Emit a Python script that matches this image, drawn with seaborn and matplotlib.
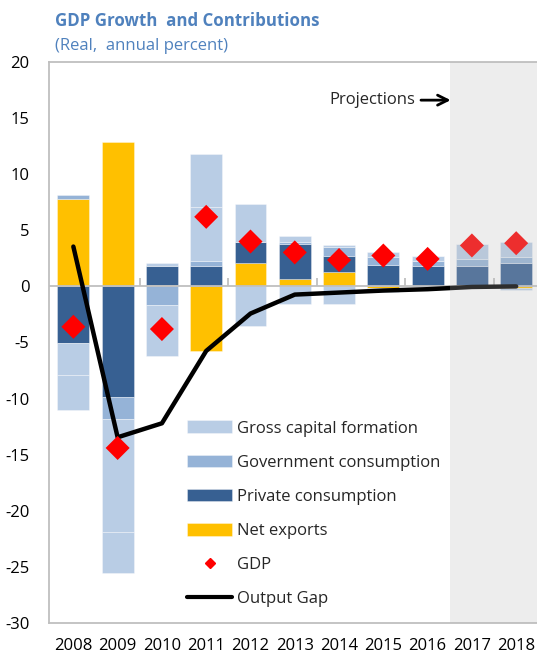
import matplotlib
matplotlib.use("Agg")
import matplotlib.pyplot as plt
import seaborn as sns
import numpy as np
import pandas as pd
from matplotlib.lines import Line2D

# ---- data ----
years = ["2008", "2009", "2010", "2011", "2012", "2013", "2014", "2015", "2016", "2017", "2018"]
net_exports = [7.8, 12.9, 0.15, -5.75, 2.09, 0.66, 1.26, -0.15, 0.0, 0.0, -0.15]
private_consumption = [-5.03, -9.87, 1.70, 1.85, 1.91, 3.09, 1.42, 1.94, 1.85, 1.85, 2.06]
government_consumption = [0.35, -1.98, -1.63, 0.45, 0.0, 0.18, 0.83, 0.65, 0.45, 0.60, 0.53]
gcf_fixed = [-2.90, -10.0, 0.24, 4.77, 3.34, 0.53, 0.18, 0.50, 0.40, 1.35, 1.33]
gcf_inventories = [-3.05, -3.65, -4.57, 4.73, -3.55, -1.53, -1.53, -0.37, 0.0, 0.0, -0.20]
gdp = [-3.6, -14.4, -3.8, 6.2, 4.0, 3.03, 2.35, 2.75, 2.45, 3.65, 3.85]
output_gap = [3.55, -13.45, -12.2, -5.75, -2.42, -0.73, -0.55, -0.37, -0.25, -0.05, 0.0]
yticks = [20, 15, 10, 5, 0, -5, -10, -15, -20, -25, -30]

sns.set_theme(style="white")
plt.rcParams["font.family"] = ["Open Sans", "DejaVu Sans"]

C_GCF = "#B9CDE5"
C_GOV = "#95B3D7"
C_PRIV = "#376092"
C_NX = "#FFC000"
GREY = "#BFBFBF"
TITLE_C = "#4F81BD"

fig = plt.figure(figsize=(5.37, 6.59), dpi=100)
ax = fig.add_axes([49 / 537, 1 - 623 / 659, 1 - 49 / 537, (623 - 62) / 659])

x = np.arange(len(years))
pos_base = np.zeros(len(years))
neg_base = np.zeros(len(years))
series = [
    (net_exports, C_NX, "Net exports"),
    (private_consumption, C_PRIV, "Private consumption"),
    (government_consumption, C_GOV, "Government consumption"),
    (gcf_fixed, C_GCF, "Gross capital formation"),
    (gcf_inventories, C_GCF, "_gcf2"),
]
handles = {}
for vals, col, lab in series:
    v = np.array(vals, dtype=float)
    bottoms = np.where(v >= 0, pos_base, neg_base)
    bc = ax.bar(x, v, bottom=bottoms, width=0.72, color=col,
                edgecolor=(1, 1, 1, 0.4), linewidth=0.6, label=lab, zorder=2)
    handles[lab] = bc
    pos_base = pos_base + np.where(v > 0, v, 0)
    neg_base = neg_base + np.where(v < 0, v, 0)

# zero axis line (drawn over bars)
ax.axhline(0, color=GREY, linewidth=1.3, zorder=3)

df = pd.DataFrame({"x": x, "gdp": gdp, "gap": output_gap})
sns.lineplot(data=df, x="x", y="gap", color="black", linewidth=3.2, ax=ax,
             zorder=4, label="Output Gap", legend=False)
sns.scatterplot(data=df, x="x", y="gdp", marker="D", s=150, color="#FF0000",
                edgecolor="none", ax=ax, zorder=5, label="GDP", legend=False)

ax.set_xlim(-0.55, 10.47)
ax.set_ylim(-30, 20)
ax.set_xticks(x)
ax.set_xticklabels(years)
ax.set_yticks(yticks)
ax.set_yticklabels([str(t) for t in yticks])
ax.set_xlabel("")
ax.set_ylabel("")
ax.tick_params(axis="x", length=0, pad=11, labelsize=12, colors="black")
ax.tick_params(axis="y", direction="in", length=5, width=1.2, color=GREY,
               pad=14, labelsize=12, labelcolor="black")
for s in ["left", "bottom", "top"]:
    ax.spines[s].set_color(GREY)
    ax.spines[s].set_linewidth(1.3)
ax.spines["right"].set_visible(False)

# tick marks on the zero axis, every two categories
sec = ax.secondary_xaxis(30 / 50)
sec.set_alignment("bottom")
sec.set_xticks([1.5, 3.5, 5.5, 7.5, 9.5])
sec.set_xticklabels([])
sec.tick_params(axis="x", which="major", direction="in", length=6, width=1.3,
                color=GREY, bottom=True, top=False)
for s in sec.spines.values():
    s.set_visible(False)
sec.set_zorder(3)

# projection shading
ax.axvspan(8.5, 10.47, color=(0.733, 0.733, 0.733), alpha=0.25, lw=0, zorder=6)
ax.text(5.79, 16.6, "Projections", fontsize=12, va="center", ha="left")
ax.annotate("", xy=(8.52, 16.6), xytext=(7.85, 16.6),
            arrowprops=dict(arrowstyle="->", lw=2, color="black",
                            mutation_scale=18, shrinkA=0, shrinkB=0))

leg_handles = [handles["Gross capital formation"], handles["Government consumption"],
               handles["Private consumption"], handles["Net exports"]]
gdp_h = Line2D([], [], marker="D", linestyle="none", color="#FF0000", markersize=5)
gap_h = Line2D([], [], color="black", linewidth=3)
leg = ax.legend(leg_handles + [gdp_h, gap_h],
                ["Gross capital formation", "Government consumption",
                 "Private consumption", "Net exports", "GDP", "Output Gap"],
                loc="upper left", bbox_to_anchor=(0.27, 0.373), frameon=False,
                fontsize=12, handlelength=2.7, handleheight=0.8,
                labelspacing=1.08, handletextpad=0.3, borderaxespad=0)

fig.text(55 / 537, 1 - 21 / 659, "GDP Growth  and Contributions", fontsize=12.2,
         fontweight="bold", color=TITLE_C, va="center", ha="left")
fig.text(55 / 537, 1 - 46 / 659, "(Real,  annual percent)", fontsize=12,
         color=TITLE_C, va="center", ha="left")

fig.savefig("out.png", dpi=100)
